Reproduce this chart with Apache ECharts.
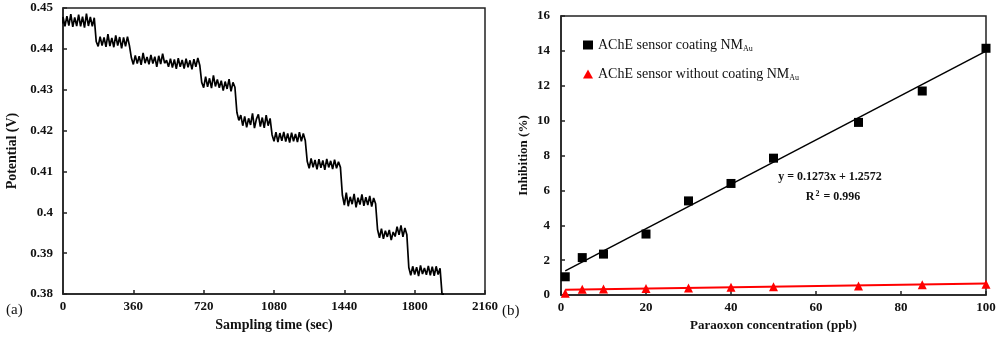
<!DOCTYPE html>
<html><head><meta charset="utf-8">
<script src="https://cdn.jsdelivr.net/npm/echarts@6/dist/echarts.min.js"></script>
<style>html,body{margin:0;padding:0;background:#fff}#c{width:1000px;height:337px}</style>
</head><body><div id="c"></div><script>
// ---------- Panel (a): potential vs sampling time (readings every 10 s) ----------
const SAMPLE_INTERVAL = 10; // seconds between readings
const step01 = [0.4462,0.4478,0.4455,0.4480,0.4457,0.4485,0.4454,0.4477,0.4456,0.4484,0.4455,0.4479,0.4452,0.4486,0.4456,0.4478,0.4455,0.4476];
const step02 = [0.4418,0.4406,0.4430,0.4408,0.4428,0.4405,0.4436,0.4407,0.4427,0.4404,0.4433,0.4408,0.4429,0.4401,0.4428,0.4406,0.4430,0.4408];
const step03 = [0.4378,0.4362,0.4384,0.4364,0.4382,0.4361,0.4390,0.4365,0.4380,0.4362,0.4385,0.4364,0.4381,0.4356,0.4383,0.4363,0.4388,0.4365];
const step04 = [0.4372,0.4356,0.4376,0.4354,0.4374,0.4351,0.4377,0.4356,0.4373,0.4352,0.4376,0.4355,0.4372,0.4350,0.4375,0.4356,0.4378,0.4360];
const step05 = [0.4318,0.4305,0.4332,0.4307,0.4328,0.4304,0.4335,0.4308,0.4325];
const step06 = [0.4305,0.4322,0.4298,0.4320,0.4302,0.4326,0.4296,0.4318,0.4306];
const step07 = [0.4245,0.4225,0.4238,0.4212,0.4235,0.4208,0.4230,0.4214,0.4242,0.4206,0.4228,0.4240,0.4210,0.4232,0.4207,0.4238,0.4212,0.4230];
const step08 = [0.4190,0.4174,0.4196,0.4172,0.4194,0.4175,0.4197,0.4173,0.4193,0.4171,0.4195,0.4174,0.4192,0.4172,0.4196,0.4174,0.4193,0.4176];
const step09 = [0.4125,0.4108,0.4132,0.4110,0.4128,0.4105,0.4130,0.4109,0.4127,0.4104,0.4131,0.4110,0.4126,0.4106,0.4129,0.4108,0.4124,0.4110];
const step10 = [0.4042,0.4018,0.4048,0.4015,0.4038,0.4020,0.4045,0.4012,0.4036,0.4019,0.4044,0.4016,0.4037,0.4018,0.4040,0.4014,0.4035,0.4021];
const step11 = [0.3958,0.3938,0.3960,0.3935,0.3955,0.3940,0.3957,0.3932,0.3952,0.3941,0.3965,0.3945,0.3968,0.3940,0.3962,0.3945];
const step12 = [0.3865,0.3846,0.3868,0.3848,0.3866,0.3844,0.3870,0.3849,0.3864,0.3847,0.3869,0.3846,0.3867,0.3845,0.3868,0.3848,0.3863];
const stepEnd = [0.3800];

const timeTicks = [0, 360, 720, 1080, 1440, 1800, 2160];
const potentialTicks = [0.38, 0.39, 0.40, 0.41, 0.42, 0.43, 0.44, 0.45];

// ---------- Panel (b): inhibition vs paraoxon concentration ----------
const concentration = [1, 5, 10, 20, 30, 40, 50, 70, 85, 100];
const inhibitionCoated = [1.05, 2.15, 2.35, 3.5, 5.4, 6.4, 7.85, 9.9, 11.7, 14.15];
const inhibitionUncoated = [0.1, 0.33, 0.35, 0.38, 0.4, 0.45, 0.48, 0.52, 0.6, 0.62];
const fitCoatedEnds = [[1, 1.384], [100, 13.987]];      // y = 0.1273x + 1.2572
const fitUncoatedEnds = [[1, 0.30], [100, 0.66]];
const concTicks = [0, 20, 40, 60, 80, 100];
const inhibTicks = [0, 2, 4, 6, 8, 10, 12, 14, 16];

const nameCoated = 'AChE sensor coating NMAu';
const nameUncoated = 'AChE sensor without coating NMAu';

// ---------- build ----------
const potential = [].concat(step01, step02, step03, step04, step05, step06, step07, step08, step09, step10, step11, step12, stepEnd);
const potentialSeries = potential.map((v, i) => [i * SAMPLE_INTERVAL, v]);

const FONT = '"Liberation Serif", "Times New Roman", serif';
const INK = '#111';
function axis(extra) {
  return Object.assign({
    type: 'value',
    nameLocation: 'middle',
    axisLine: { show: true, onZero: false, lineStyle: { color: '#222', width: 1.5 } },
    axisTick: { show: true, inside: true, length: 4, lineStyle: { color: '#222', width: 1.5 } },
    splitLine: { show: false },
    axisLabel: { color: INK, fontFamily: FONT, fontWeight: 'bold', fontSize: 13, margin: 6, formatter: v => String(v) },
    nameTextStyle: { color: INK, fontFamily: FONT, fontWeight: 'bold', fontSize: 14 }
  }, extra);
}

const chart = echarts.init(document.getElementById('c'), null, { renderer: 'canvas' });
chart.setOption({
  animation: false,
  backgroundColor: '#fff',
  grid: [
    { left: 63, top: 8, width: 422, height: 287, show: true, borderColor: '#222', borderWidth: 1.5 },
    { left: 561, top: 16, width: 425, height: 281, show: true, borderColor: '#222', borderWidth: 1.5 }
  ],
  xAxis: [
    axis({ gridIndex: 0, min: timeTicks[0], max: timeTicks[timeTicks.length - 1], interval: 360,
      name: 'Sampling time (sec)', nameGap: 22 }),
    axis({ gridIndex: 1, min: concTicks[0], max: concTicks[concTicks.length - 1], interval: 20,
      name: 'Paraoxon concentration (ppb)', nameGap: 21, nameTextStyle: { color: INK, fontFamily: FONT, fontWeight: 'bold', fontSize: 13 } })
  ],
  yAxis: [
    axis({ gridIndex: 0, min: potentialTicks[0], max: potentialTicks[potentialTicks.length - 1], interval: 0.01,
      name: 'Potential (V)', nameGap: 44,
      axisLabel: { color: INK, fontFamily: FONT, fontWeight: 'bold', fontSize: 13, margin: 10,
        formatter: v => String(+v.toFixed(2)) } }),
    axis({ gridIndex: 1, min: inhibTicks[0], max: inhibTicks[inhibTicks.length - 1], interval: 2,
      name: 'Inhibition (%)', nameGap: 31, nameTextStyle: { color: INK, fontFamily: FONT, fontWeight: 'bold', fontSize: 13 },
      axisLabel: { color: INK, fontFamily: FONT, fontWeight: 'bold', fontSize: 13, margin: 11, formatter: v => String(v) } })
  ],
  legend: {
    data: [{ name: nameCoated, icon: 'rect' }, { name: nameUncoated, icon: 'triangle' }],
    orient: 'vertical', left: 578, top: 33, itemWidth: 10, itemHeight: 9, itemGap: 14,
    formatter: n => n.replace('NMAu', '{n|NM}{s|Au}'),
    textStyle: { fontFamily: FONT, fontSize: 14, color: INK,
      rich: { n: { fontFamily: FONT, fontSize: 14, color: INK },
              s: { fontFamily: FONT, fontSize: 8, color: INK, padding: [8, 0, 0, 0] } } }
  },
  graphic: [
    { type: 'text', left: 6, top: 303, style: { text: '(a)', font: '15px ' + FONT, fill: INK } },
    { type: 'text', left: 502, top: 304, style: { text: '(b)', font: '15px ' + FONT, fill: INK } },
    { type: 'text', x: 830, y: 177, style: { text: 'y = 0.1273x + 1.2572', font: 'bold 12px ' + FONT, fill: INK, align: 'center', verticalAlign: 'middle' } },
    { type: 'text', x: 833, y: 197, style: { text: '{b|R}{p|2}{b| = 0.996}', align: 'center', verticalAlign: 'middle',
        rich: { b: { font: 'bold 12px ' + FONT, fill: INK, color: INK },
                p: { font: 'bold 8px ' + FONT, fill: INK, color: INK, padding: [0, 1, 7, 1] } } } }
  ],
  series: [
    { type: 'line', xAxisIndex: 0, yAxisIndex: 0, data: potentialSeries, step: 'start', showSymbol: false,
      lineStyle: { color: '#000', width: 1.7 }, itemStyle: { color: '#000' } },
    { type: 'line', xAxisIndex: 1, yAxisIndex: 1, data: fitCoatedEnds, showSymbol: false, symbol: 'none',
      lineStyle: { color: '#000', width: 1.5 }, z: 2 },
    { type: 'line', xAxisIndex: 1, yAxisIndex: 1, data: fitUncoatedEnds, showSymbol: false, symbol: 'none',
      lineStyle: { color: '#ff0000', width: 2 }, z: 2 },
    { name: nameCoated, type: 'scatter', xAxisIndex: 1, yAxisIndex: 1, symbol: 'rect', symbolSize: 9,
      data: concentration.map((c, i) => [c, inhibitionCoated[i]]), itemStyle: { color: '#000', opacity: 1 }, z: 3 },
    { name: nameUncoated, type: 'scatter', xAxisIndex: 1, yAxisIndex: 1, symbol: 'triangle', symbolSize: 9,
      data: concentration.map((c, i) => [c, inhibitionUncoated[i]]), itemStyle: { color: '#ff0000', opacity: 1 }, z: 3, clip: false }
  ]
});
</script></body></html>
